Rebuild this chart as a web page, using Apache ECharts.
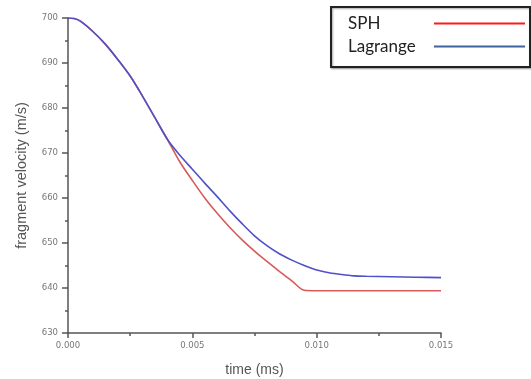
<!DOCTYPE html>
<html>
<head>
<meta charset="utf-8">
<script src="https://cdn.jsdelivr.net/npm/echarts@6/dist/echarts.min.js"></script>
<style>
  html, body { margin: 0; padding: 0; background: #fff; }
  #chart { width: 531px; height: 379px; }
</style>
</head>
<body>
<div id="chart"></div>
<script>
// time (ms) samples
const time = [0, 0.00025, 0.0005, 0.001, 0.0015, 0.002, 0.0025, 0.003, 0.0035, 0.004,
  0.0045, 0.005, 0.0055, 0.006, 0.0065, 0.007, 0.0075, 0.008, 0.0085, 0.009,
  0.0095, 0.010, 0.0105, 0.011, 0.0115, 0.012, 0.013, 0.014, 0.015]

// fragment velocity (m/s)
const sph = [700, 699.9, 699.3, 697.0, 694.2, 690.8, 687.1, 682.6, 677.8, 673.0,
  668.0, 663.9, 660.0, 656.6, 653.5, 650.7, 648.2, 645.9, 643.7, 641.6,
  639.5, 639.4, 639.4, 639.4, 639.4, 639.4, 639.4, 639.4, 639.4]
const lagrange = [700, 699.9, 699.3, 697.0, 694.2, 690.8, 687.1, 682.6, 677.8, 673.0,
  669.5, 666.4, 663.3, 660.3, 657.2, 654.3, 651.6, 649.4, 647.6, 646.2,
  645.0, 644.0, 643.4, 643.0, 642.7, 642.6, 642.5, 642.4, 642.3]

const xTicks = { min: 0, max: 0.015, interval: 0.005 }
const yTicks = { min: 630, max: 700, interval: 10 }

const toPairs = (vals) => time.map((t, i) => [t, vals[i]])

const chart = echarts.init(document.getElementById('chart'))

const axisColor = '#555'
const tickLabel = { fontFamily: 'DejaVu Sans', fontSize: 8.5, color: '#777' }

chart.setOption({
  animation: false,
  backgroundColor: '#fff',
  grid: { left: 68, right: 90, top: 18, bottom: 46, outerBoundsMode: 'none', containLabel: false },
  graphic: [
    {
      type: 'rect',
      left: 330,
      top: 6,
      z: 0,
      shape: { width: 199, height: 60 },
      style: {
        fill: '#fff',
        stroke: '#222',
        lineWidth: 2,
        shadowBlur: 2,
        shadowOffsetX: 1,
        shadowOffsetY: 1,
        shadowColor: 'rgba(0,0,0,0.35)'
      }
    }
  ],
  legend: {
    orient: 'vertical',
    left: 348,
    top: 15,
    padding: 0,
    align: 'right',
    itemWidth: 91,
    itemHeight: 2,
    itemGap: 6,
    icon: 'rect',
    z: 5,
    formatter: '{a|{name}}',
    textStyle: {
      color: '#222',
      fontFamily: 'Lato',
      fontSize: 17,
      rich: { a: { width: 81, align: 'left', fontFamily: 'Lato', fontSize: 17, lineHeight: 20 } }
    },
    data: [
      { name: 'SPH', itemStyle: { color: '#ff1a1a' } },
      { name: 'Lagrange', itemStyle: { color: '#3f62a0' } }
    ]
  },
  xAxis: {
    type: 'value',
    min: xTicks.min,
    max: xTicks.max,
    interval: xTicks.interval,
    name: 'time (ms)',
    nameLocation: 'middle',
    nameGap: 30,
    nameTextStyle: { fontFamily: 'Liberation Sans', fontSize: 14, color: '#555' },
    axisLine: { lineStyle: { color: axisColor, width: 1.5 } },
    axisTick: { inside: false, length: 5, lineStyle: { color: axisColor, width: 1.5 } },
    minorTick: { show: true, splitNumber: 2, length: 3, lineStyle: { color: axisColor, width: 1.5 } },
    splitLine: { show: false },
    axisLabel: Object.assign({ margin: 8, formatter: (v) => v.toFixed(3) }, tickLabel)
  },
  yAxis: {
    type: 'value',
    min: yTicks.min,
    max: yTicks.max,
    interval: yTicks.interval,
    name: 'fragment velocity (m/s)',
    nameLocation: 'middle',
    nameGap: 39,
    nameTextStyle: { fontFamily: 'Liberation Sans', fontSize: 14.5, color: '#555' },
    axisLine: { show: true, lineStyle: { color: axisColor, width: 1.5 } },
    axisTick: { show: true, inside: false, length: 6, lineStyle: { color: axisColor, width: 1.5 } },
    minorTick: { show: true, splitNumber: 2, length: 3, lineStyle: { color: axisColor, width: 1.5 } },
    splitLine: { show: false },
    axisLabel: Object.assign({ margin: 10 }, tickLabel)
  },
  series: [
    {
      name: 'SPH',
      type: 'line',
      data: toPairs(sph),
      showSymbol: false,
      smooth: 0.3,
      color: '#d85a5a',
      lineStyle: { color: '#d85a5a', width: 1.6 }
    },
    {
      name: 'Lagrange',
      type: 'line',
      data: toPairs(lagrange),
      showSymbol: false,
      smooth: 0.3,
      color: '#5050c8',
      lineStyle: { color: '#5050c8', width: 1.6 }
    }
  ]
})
</script>
</body>
</html>
